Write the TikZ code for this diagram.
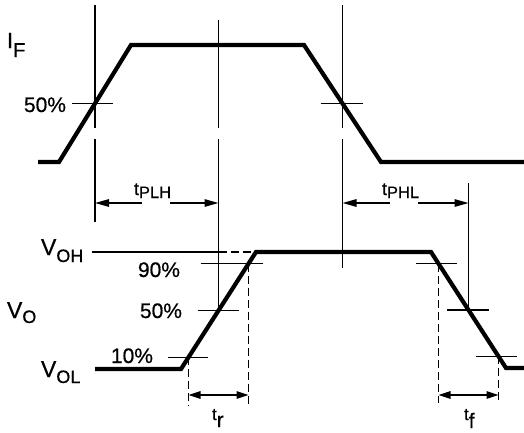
\documentclass[tikz,border=0pt]{standalone}
\usepackage{fontspec}
\setmainfont{Liberation Sans}[FakeBold=0.6]
\usetikzlibrary{arrows.meta,calc}
\newcommand\fsz[1]{\fontsize{#1}{#1}\selectfont}
\begin{document}
\begin{tikzpicture}[x=1pt,y=-1pt,
  wave/.style={line width=4.2pt},
  thinline/.style={line width=1.4pt},
  dashline/.style={line width=1.4pt,dash pattern=on 8pt off 4pt},
  dimarrow/.style={line width=1.4pt,-{Triangle[length=14pt,width=7.5pt]}},
  smallarrow/.style={line width=1.4pt,{Triangle[length=12pt,width=7.5pt]}-{Triangle[length=12pt,width=7.5pt]}},
  lbl/.style={inner sep=0pt,outer sep=0pt,font=\fsz{21}}]
\useasboundingbox (0,0) rectangle (524,432);
% top waveform I_F
\coordinate (a0) at (38,162);
\coordinate (a1) at (59,162);
\coordinate (a2) at (131,45);
\coordinate (a3) at (304,45);
\coordinate (a4) at (381,162);
\coordinate (a5) at (524,162);
\coordinate (am) at ($(a1)!0.5!(a2)$);
\coordinate (bm) at ($(a3)!0.5!(a4)$);
% bottom waveform V_O
\coordinate (b0) at (95,369);
\coordinate (b1) at (181,369);
\coordinate (b2) at (256,252);
\coordinate (b3) at (431,252);
\coordinate (b4) at (506,368);
\coordinate (b5) at (524,368);
\coordinate (r10) at ($(b1)!0.1!(b2)$);
\coordinate (r50) at ($(b1)!0.5!(b2)$);
\coordinate (r90) at ($(b1)!0.9!(b2)$);
\coordinate (f90) at ($(b3)!0.1!(b4)$);
\coordinate (f50) at ($(b3)!0.5!(b4)$);
\coordinate (f10) at ($(b3)!0.9!(b4)$);

% reference vertical lines
\draw[thinline] (am |- 0,5) -- (am |- 0,128) (am |- 0,139) -- (am |- 0,222);
\draw[thinline] (r50 |- 0,20) -- (r50 |- 0,128) (r50 |- 0,139) -- (r50);
\draw[thinline] (bm |- 0,5) -- (bm |- 0,128) (bm |- 0,139) -- (bm |- 0,268);
\draw[thinline] (f50 |- 0,183) -- (f50);

% 50% ticks on I_F
\draw[thinline] ($(am)+(-23,0)$) -- ($(am)+(18,0)$);
\draw[thinline] ($(bm)+(-22,0)$) -- ($(bm)+(20,0)$);

% V_OH reference line
\draw[thinline] (92,252) -- (r50 |- 0,252);
\draw[dashline] (r50 |- 0,252) -- (252,252);

% ticks on V_O
\draw[thinline] ($(r10)+(-21,0)$) -- ($(r10)+(19,0)$);
\draw[thinline] ($(r50)+(-21,0)$) -- ($(r50)+(20,0)$);
\draw[thinline] ($(r90)+(-48,0)$) -- ($(r90)+(14,0)$);
\draw[thinline] ($(f90)+(-23,0)$) -- ($(f90)+(18,0)$);
\draw[thinline] ($(f50)+(-22,0)$) -- ($(f50)+(20,0)$);
\draw[thinline] ($(f10)+(-23,0)$) -- ($(f10)+(18,0)$);

% dashed verticals
\draw[dashline] (r10) -- (r10 |- 0,406);
\draw[dashline] (r90) -- (r90 |- 0,406);
\draw[dashline] (f90) -- (f90 |- 0,403);
\draw[dashline] (f10) -- (f10 |- 0,403);

% waveforms
\draw[wave] (a0) -- (a1) -- (a2) -- (a3) -- (a4) -- (a5);
\draw[wave] (b0) -- (b1) -- (b2) -- (b3) -- (b4) -- (b5);

% delay arrows
\coordinate (plhL) at (142,203);
\coordinate (plhR) at (170,203);
\coordinate (phlL) at (390,203);
\coordinate (phlR) at (418,203);
\draw[dimarrow] (plhL) -- (am |- plhL);
\draw[dimarrow] (plhR) -- (r50 |- plhR);
\draw[dimarrow] (phlL) -- (bm |- phlL);
\draw[dimarrow] (phlR) -- (f50 |- phlR);
\draw[smallarrow] (r10 |- 0,395) -- (r90 |- 0,395);
\draw[smallarrow] (f90 |- 0,395) -- (f10 |- 0,395);

% labels
\node[lbl,anchor=base west] (lif) at (7,48) {\fsz{22}I\raisebox{-9pt}{\fsz{20}F}};
\node[lbl,anchor=base east] (l50a) at (66,112) {50\%};
\node[lbl,anchor=base west] (lplh) at (134,195) {\fsz{18}t\raisebox{-3pt}{\fsz{16.5}PLH}};
\node[lbl,anchor=base west] (lphl) at (382,195) {\fsz{18}t\raisebox{-3pt}{\fsz{16.5}PHL}};
\node[lbl,anchor=base west] (lvoh) at (41,255) {\fsz{23}V\raisebox{-7pt}{\fsz{18}OH}};
\node[lbl,anchor=base west] (lvo) at (7,318) {\fsz{23}V\raisebox{-5pt}{\fsz{18}O}};
\node[lbl,anchor=base west] (lvol) at (41,377) {\fsz{23}V\raisebox{-6pt}{\fsz{18}OL}};
\node[lbl,anchor=base east] (l90) at (180,277) {90\%};
\node[lbl,anchor=base east] (l50b) at (182,318) {50\%};
\node[lbl,anchor=base east] (l10) at (153,363) {10\%};
\node[lbl,anchor=base west] (ltr) at (212,420) {\fsz{17}t\raisebox{-7pt}{\fsz{21}r}};
\node[lbl,anchor=base west] (ltf) at (464,420) {\fsz{17}t\raisebox{-8pt}{\fsz{21}f}};
\end{tikzpicture}
\end{document}
